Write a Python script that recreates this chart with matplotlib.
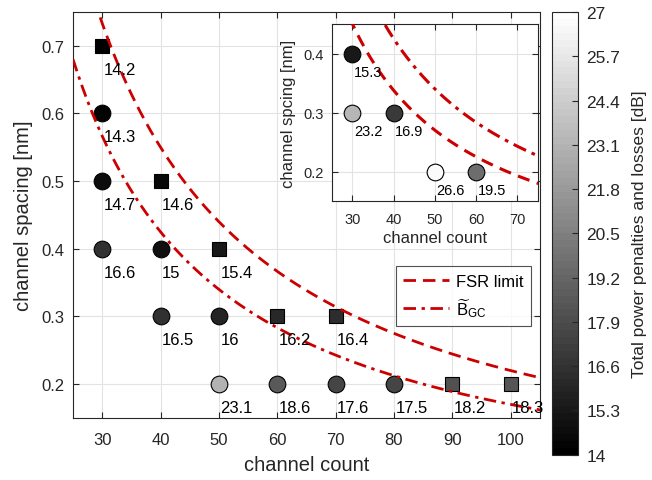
import numpy as np
import matplotlib
matplotlib.use("Agg")
import matplotlib.pyplot as plt
from matplotlib.colors import Normalize
from matplotlib.cm import ScalarMappable

plt.rcParams['font.family'] = ['Liberation Sans', 'DejaVu Sans']
plt.rcParams['mathtext.fontset'] = 'custom'
plt.rcParams['mathtext.rm'] = 'Liberation Sans'
plt.rcParams['mathtext.it'] = 'Liberation Sans:italic'

# main design grid: channel count, spacing [nm], total penalty [dB], marker
count = [30, 30, 30, 40, 30, 40, 50, 40, 50, 60, 70, 50, 60, 70, 80, 90, 100]
spacing = [0.7, 0.6, 0.5, 0.5, 0.4, 0.4, 0.4, 0.3, 0.3, 0.3, 0.3,
           0.2, 0.2, 0.2, 0.2, 0.2, 0.2]
penalty = [14.2, 14.3, 14.7, 14.6, 16.6, 15, 15.4, 16.5, 16, 16.2, 16.4,
           23.1, 18.6, 17.6, 17.5, 18.2, 18.3]
marker = ['s', 'o', 'o', 's', 'o', 'o', 's', 'o', 'o', 's', 's',
          'o', 'o', 'o', 'o', 's', 's']

# inset grid
count_in = [30, 30, 40, 50, 60]
spacing_in = [0.4, 0.3, 0.3, 0.2, 0.2]
penalty_in = [15.3, 23.2, 16.9, 26.6, 19.5]

# limit curves: spacing = k / count
fsr_k = 22.0
bgc_k = 17.0
fsr_k_in = 13.5
bgc_k_in = 17.0

cbar_ticks = [14, 15.3, 16.6, 17.9, 19.2, 20.5, 21.8, 23.1, 24.4, 25.7, 27]

red = '#cc0000'
dash = (0, (4.5, 2.5))
dashdot = (0, (4.5, 2, 1.2, 2))
cmap = plt.get_cmap('gray', 64)
norm = Normalize(14, 27)
axcol = '#262626'


def style(ax, fs, xpad, ypad):
    ax.grid(True, color='#e3e3e3', lw=0.8)
    ax.set_axisbelow(True)
    ax.tick_params(direction='in', top=True, right=True, labelsize=fs,
                   colors=axcol, length=4)
    ax.tick_params(axis='x', pad=xpad)
    ax.tick_params(axis='y', pad=ypad)
    for s in ax.spines.values():
        s.set_color(axcol)


fig = plt.figure(figsize=(6.52, 4.81), dpi=100)
ax = fig.add_axes([0.112, 0.129, 0.716, 0.844])
style(ax, 12, 10, 6)

xx = np.linspace(25, 106, 400)
ax.plot(xx, fsr_k / xx, color=red, lw=2, ls=dash, zorder=3, label='FSR limit')
ax.plot(xx, bgc_k / xx, color=red, lw=2, ls=dashdot, zorder=3,
        label=r'$\widetilde{\mathrm{B}}_{\mathrm{GC}}$')

for x, y, p, m in zip(count, spacing, penalty, marker):
    ms = 12 if m == 'o' else 9.5
    ax.plot(x, y, marker=m, ms=ms, mfc=cmap(norm(p)), mec='k', mew=0.8,
            ls='none', zorder=2)
    ax.annotate(f'{p:g}', (x, y), xytext=(1, -20), textcoords='offset points',
                ha='left', va='baseline', fontsize=12, zorder=4)

ax.set_xlim(25, 105)
ax.set_ylim(0.15, 0.75)
ax.set_xticks([30, 40, 50, 60, 70, 80, 90, 100])
ax.set_yticks([0.2, 0.3, 0.4, 0.5, 0.6, 0.7])
ax.set_xlabel('channel count', fontsize=14.5, color=axcol, labelpad=6)
ax.set_ylabel('channel spacing [nm]', fontsize=14.5, color=axcol, labelpad=6)
leg = ax.legend(loc='upper left', bbox_to_anchor=(0.691, 0.374),
                borderaxespad=0, fontsize=12, frameon=True, fancybox=False,
                handlelength=2.75, handletextpad=0.4, borderpad=0.45,
                labelspacing=0.45)
leg.get_frame().set_edgecolor(axcol)
leg.get_frame().set_linewidth(0.8)

# inset
axi = fig.add_axes([0.509, 0.58, 0.316, 0.368])
style(axi, 10.5, 8, 6)
xi = np.linspace(25, 76, 300)
axi.plot(xi, fsr_k_in / xi, color=red, lw=2.2, ls=(0, (4, 2.5)), zorder=3)
axi.plot(xi, bgc_k_in / xi, color=red, lw=2.2, ls=dashdot, zorder=3)
for x, y, p in zip(count_in, spacing_in, penalty_in):
    axi.plot(x, y, marker='o', ms=12, mfc=cmap(norm(p)), mec='k', mew=0.8,
             ls='none', zorder=2)
    axi.annotate(f'{p:g}', (x, y), xytext=(1, -16), textcoords='offset points',
                 ha='left', va='baseline', fontsize=10.5, zorder=4)
axi.set_xlim(25, 75)
axi.set_ylim(0.15, 0.45)
axi.set_xticks([30, 40, 50, 60, 70])
axi.set_yticks([0.2, 0.3, 0.4])
axi.set_xlabel('channel count', fontsize=12, color=axcol, labelpad=3)
axi.set_ylabel('channel spcing [nm]', fontsize=12, color=axcol, labelpad=5)

# colorbar
cax = fig.add_axes([0.846, 0.0526, 0.0408, 0.920])
sm = ScalarMappable(norm=norm, cmap=cmap)
cb = fig.colorbar(sm, cax=cax, ticks=cbar_ticks)
cb.ax.set_yticklabels([f'{t:g}' for t in cbar_ticks])
cb.ax.tick_params(direction='in', labelsize=12.5, colors=axcol, length=4,
                  pad=6)
cb.outline.set_edgecolor(axcol)
cb.set_label('Total power penalties and losses [dB]', fontsize=12.5,
             color=axcol, labelpad=8)

fig.savefig('out.png', dpi=100)
